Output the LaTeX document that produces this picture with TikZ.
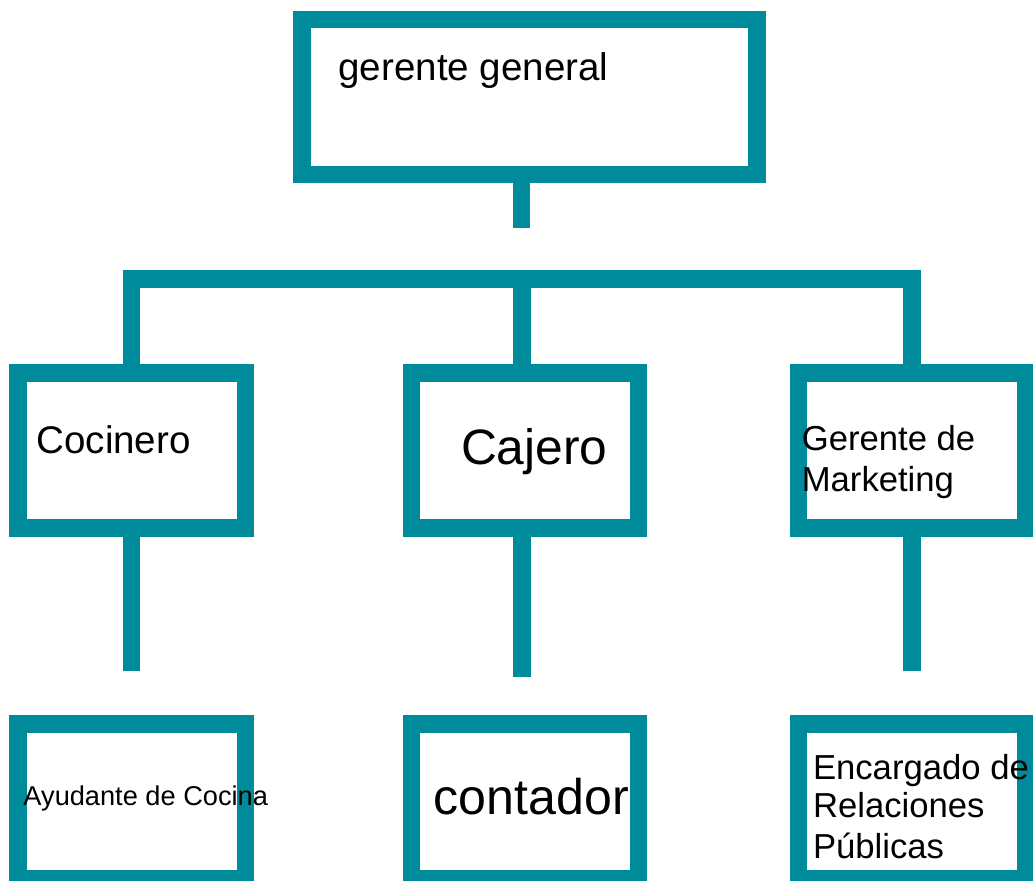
\documentclass[tikz,border=0pt]{standalone}
\usepackage{fontspec}
\setmainfont{Liberation Sans}
\definecolor{tealc}{RGB}{0,139,155}
\begin{document}
\begin{tikzpicture}[x=0.75pt,y=-0.75pt,
  box/.style={draw=tealc, line width=13.1pt, fill=white, rectangle, inner sep=0pt, outer sep=0pt},
  topbox/.style={box, minimum width=341.25pt, minimum height=115.9pt},
  subbox/.style={box, minimum width=170.6pt, minimum height=116.25pt},
  conn/.style={draw=tealc, line width=12.9pt, line cap=butt, line join=miter},
  lbl/.style={anchor=base west, inner sep=0pt, outer sep=0pt, text=black}]
\useasboundingbox (0,0) rectangle (1033,881);
\clip (0,0) rectangle (1033,881);
% boxes
\node[topbox] (gg) at (529.5,97) {};
\node[subbox] (coc) at (131.8,450.5) {};
\node[subbox] (caj) at (525,450.5) {};
\node[subbox] (mkt) at (912,450.5) {};
\node[subbox] (ayu) at (131.8,801.5) {};
\node[subbox] (con) at (525,801.5) {};
\node[subbox] (enc) at (912,801.5) {};
% connector coordinates
\coordinate (stubend) at (521.8,227.7);
\coordinate (bar) at (0,279);
\coordinate (midx) at (522,0);
\coordinate (e1) at (131.8,671.3);
\coordinate (e2) at (522,677.3);
\coordinate (e3) at (912,671.3);
% connectors
\draw[conn] (gg.south -| stubend) -- (stubend);
\draw[conn] (coc.north) -- (coc.north |- bar) -- (mkt.north |- bar) -- (mkt.north);
\draw[conn] (caj.north -| midx) -- (bar -| midx);
\draw[conn] (coc.south) -- (e1);
\draw[conn] (caj.south -| e2) -- (e2);
\draw[conn] (mkt.south) -- (e3);
% labels
\node[lbl, font=\fontsize{28.9pt}{34pt}\selectfont] (t1) at (338.5,80.5) {gerente general};
\node[lbl, font=\fontsize{28.9pt}{34pt}\selectfont] (t2) at (36.5,453.3) {Cocinero};
\node[lbl, font=\fontsize{37.3pt}{44pt}\selectfont] (t3) at (461,464.3) {Cajero};
\node[lbl, font=\fontsize{26pt}{30pt}\selectfont] (t4a) at (801.8,450.7) {Gerente de};
\node[lbl, font=\fontsize{26pt}{30pt}\selectfont] (t4b) at (801.8,491) {Marketing};
\node[lbl, font=\fontsize{20.4pt}{24pt}\selectfont] (t5) at (23.5,805.7) {Ayudante de Cocina};
\node[lbl, font=\fontsize{37.6pt}{44pt}\selectfont] (t6) at (433.7,814) {contador};
\node[lbl, font=\fontsize{26pt}{30pt}\selectfont] (t7a) at (813,779.3) {Encargado de};
\node[lbl, font=\fontsize{26pt}{30pt}\selectfont] (t7b) at (813,817.5) {Relaciones};
\node[lbl, font=\fontsize{26pt}{30pt}\selectfont] (t7c) at (813,858.5) {Públicas};
\end{tikzpicture}
\end{document}
